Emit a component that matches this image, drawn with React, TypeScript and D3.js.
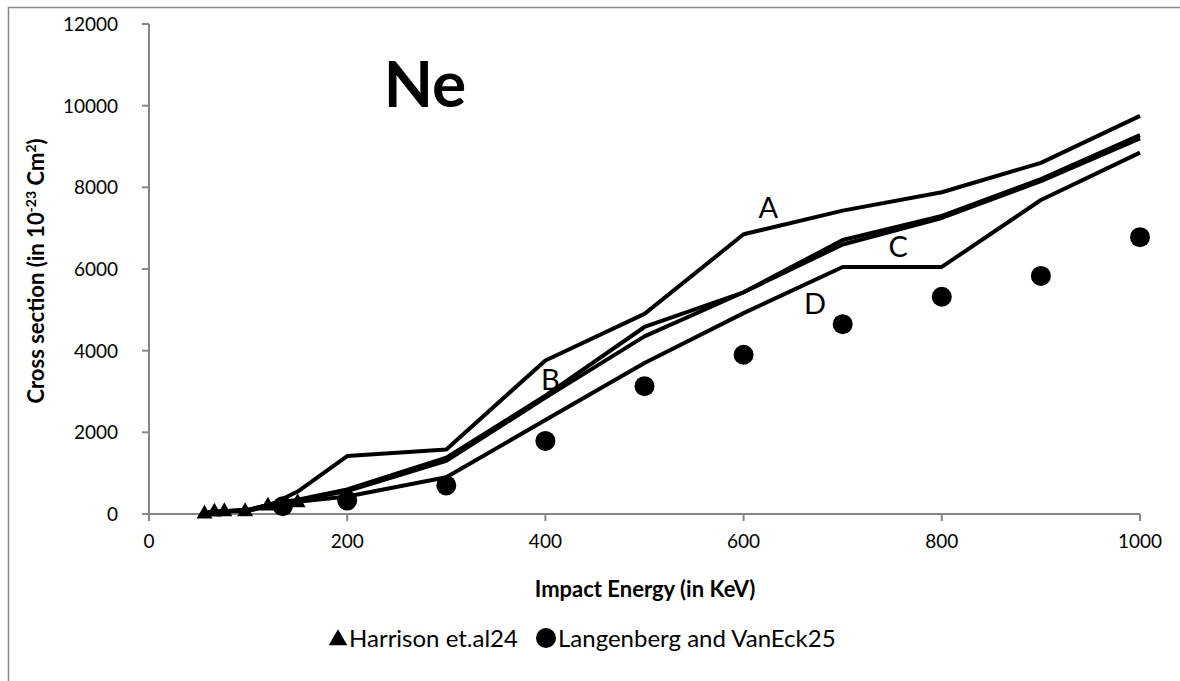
import React from "react";
import * as d3 from "d3";

// energies (KeV) used by the theoretical curves
const energies = [60, 100, 125, 150, 200, 300, 400, 500, 600, 700, 800, 900, 1000];
const curveA = [50, 100, 250, 550, 1420, 1580, 3760, 4900, 6850, 7430, 7880, 8600, 9750];
const curveB = [50, 100, 250, 350, 600, 1380, 2900, 4580, 5430, 6710, 7300, 8200, 9280];
const curveC = [50, 100, 250, 330, 560, 1300, 2850, 4350, 5430, 6600, 7250, 8150, 9200];
const curveD = [40, 80, 200, 300, 430, 900, 2300, 3700, 4920, 6050, 6050, 7690, 8850];

// experimental points
const harrisonE = [56, 66, 76, 97, 120, 150];
const harrisonV = [0, 50, 60, 60, 200, 280];
const langenbergE = [135, 200, 300, 400, 500, 600, 700, 800, 900, 1000];
const langenbergV = [190, 330, 700, 1790, 3130, 3900, 4650, 5320, 5830, 6780];

const curveNames = ["A", "B", "C", "D"];
const labelE = [625, 405, 756, 672];
const labelV = [7250, 3040, 6300, 4890];

const xTicks = [0, 200, 400, 600, 800, 1000];
const yTicks = [0, 2000, 4000, 6000, 8000, 10000, 12000];

const FONT = "Lato, 'Open Sans', sans-serif";
const AXIS = "#868686";

export default function App() {
  const x = d3.scaleLinear().domain([0, 1000]).range([149, 1140]);
  const y = d3.scaleLinear().domain([0, 12000]).range([514, 24]);

  const line = d3
    .line<[number, number]>()
    .x((d) => x(d[0]))
    .y((d) => y(d[1]));

  const curves = [curveA, curveB, curveC, curveD];
  const tri = d3.symbol().type(d3.symbolTriangle).size(110)();
  const legendTri = d3.symbol().type(d3.symbolTriangle).size(150)();

  return (
    <svg
      width={1180}
      height={681}
      style={{ position: "absolute", left: 0, top: 0, background: "#fff" }}
      fontFamily={FONT}
    >
      <rect x={8.5} y={7.5} width={1300} height={800} fill="#fff" stroke={AXIS} strokeWidth={1.5} />

      {/* axes */}
      <line x1={x(0)} x2={x(1000)} y1={y(0)} y2={y(0)} stroke={AXIS} strokeWidth={2} />
      <line x1={x(0)} x2={x(0)} y1={y(0)} y2={y(12000)} stroke={AXIS} strokeWidth={2} />
      {xTicks.map((t) => (
        <g key={"x" + t}>
          <line x1={x(t)} x2={x(t)} y1={y(0)} y2={y(0) + 7} stroke={AXIS} strokeWidth={2} />
          <text x={x(t)} y={y(0) + 34} textAnchor="middle" fontSize={19} fill="#000">
            {t}
          </text>
        </g>
      ))}
      {yTicks.map((t) => (
        <g key={"y" + t}>
          <line x1={x(0) - 7} x2={x(0)} y1={y(t)} y2={y(t)} stroke={AXIS} strokeWidth={2} />
          <text x={x(0) - 31} y={y(t) + 7} textAnchor="end" fontSize={19} fill="#000">
            {t}
          </text>
        </g>
      ))}

      {/* curves */}
      {curves.map((c, i) => (
        <path
          key={curveNames[i]}
          d={line(energies.map((e, j) => [e, c[j]] as [number, number])) || ""}
          fill="none"
          stroke="#000"
          strokeWidth={4}
          strokeLinejoin="round"
        />
      ))}

      {/* experimental data */}
      {harrisonE.map((e, i) => (
        <path key={"h" + i} d={tri || ""} transform={`translate(${x(e)},${y(harrisonV[i])})`} fill="#000" />
      ))}
      {langenbergE.map((e, i) => (
        <circle key={"l" + i} cx={x(e)} cy={y(langenbergV[i])} r={10} fill="#000" />
      ))}

      {/* curve labels */}
      {curveNames.map((n, i) => (
        <text key={"t" + n} x={x(labelE[i])} y={y(labelV[i])} textAnchor="middle" fontSize={29} fill="#000">
          {n}
        </text>
      ))}

      <text x={425} y={107} textAnchor="middle" fontSize={64} fontWeight="bold" fill="#000">
        Ne
      </text>

      {/* axis titles */}
      <text x={645} y={597} textAnchor="middle" fontSize={22} fontWeight="bold" fill="#000">
        Impact Energy (in KeV)
      </text>
      <text transform="translate(44,271) rotate(-90)" textAnchor="middle" fontSize={22} fontWeight="bold" fill="#000">
        Cross section (in 10
        <tspan fontSize={14} dy={-8}>-23</tspan>
        <tspan dy={8}> Cm</tspan>
        <tspan fontSize={14} dy={-8}>2</tspan>
        <tspan dy={8}>)</tspan>
      </text>

      {/* legend */}
      <path d={legendTri || ""} transform="translate(338,640)" fill="#000" />
      <text x={349} y={647} fontSize={24} fill="#000">
        Harrison et.al24
      </text>
      <circle cx={546} cy={638} r={10} fill="#000" />
      <text x={558} y={647} fontSize={24} fill="#000">
        Langenberg and VanEck25
      </text>
    </svg>
  );
}
